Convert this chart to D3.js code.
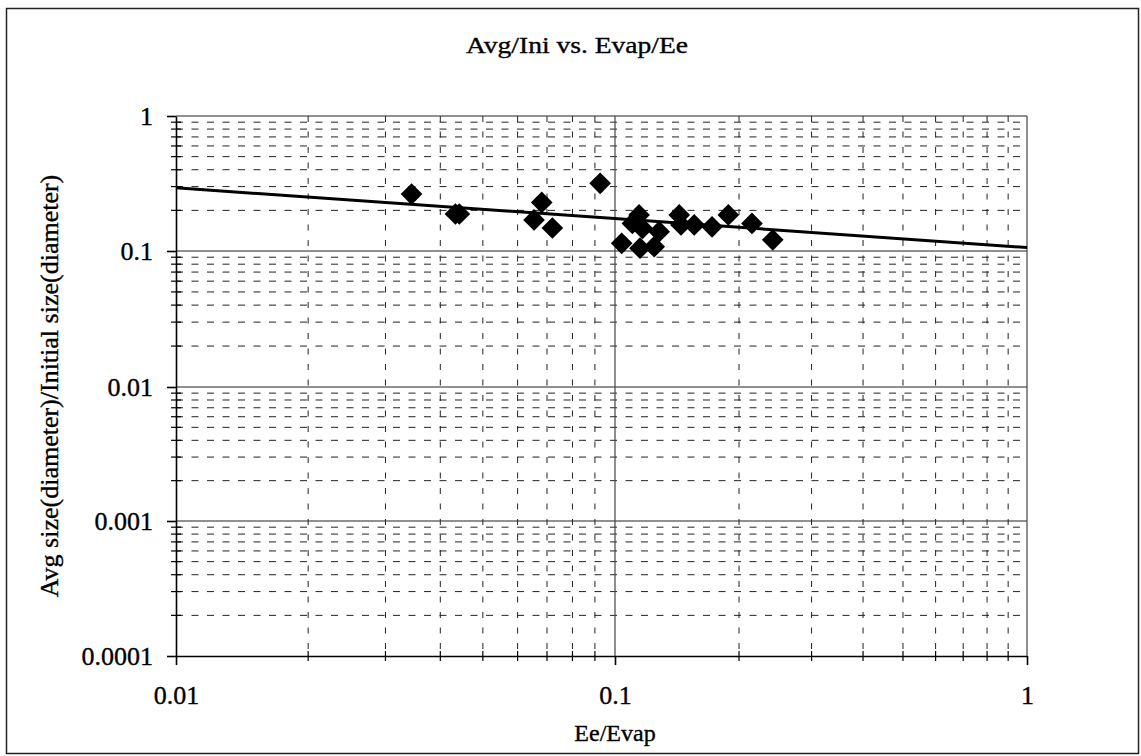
<!DOCTYPE html>
<html><head><meta charset="utf-8">
<script src="https://cdn.jsdelivr.net/npm/d3@7"></script>
<style>
body{margin:0;background:#fff}
svg{display:block}
text{font-family:"Liberation Serif","Times New Roman",serif;fill:#000;stroke:#000;stroke-width:0.35px}
</style>
</head><body><svg id="c" width="1141" height="756"></svg>
<script>
const title = "Avg/Ini vs. Evap/Ee";
const xTitle = "Ee/Evap";
const yTitle = "Avg size(diameter)/Initial size(diameter)";
const xTickValues = [0.01, 0.1, 1];
const xTickLabels = ["0.01", "0.1", "1"];
const yTickValues = [1, 0.1, 0.01, 0.001, 0.0001];
const yTickLabels = ["1", "0.1", "0.01", "0.001", "0.0001"];
const minorMultipliers = [2, 3, 4, 5, 6, 7, 8, 9];
const xValues = [0.0344, 0.0433, 0.0442, 0.0681, 0.0654, 0.0720, 0.0925, 0.1038, 0.1144, 0.1102, 0.1166, 0.128, 0.115, 0.1245, 0.1432, 0.1446, 0.1557, 0.172, 0.1884, 0.215, 0.2415];
const yValues = [0.264, 0.188, 0.188, 0.229, 0.170, 0.148, 0.317, 0.114, 0.185, 0.160, 0.147, 0.139, 0.105, 0.1076, 0.185, 0.156, 0.156, 0.151, 0.185, 0.160, 0.121];
const trendX = [0.01, 1];
const trendY = [0.294, 0.106];

const svg = d3.select("#c");
const x = d3.scaleLog().domain([0.01, 0.1, 1]).range([176, 615, 1027]);
const y = d3.scaleLog().domain([1, 0.1, 0.01, 0.001, 0.0001]).range([116, 251, 387, 521, 656]);
const [x0, x1] = [x(0.01), x(1)];
const [y0, y1] = [y(1), y(0.0001)];

// outer border
svg.append("rect").attr("x", 6.5).attr("y", 8.5).attr("width", 1132).attr("height", 745)
  .attr("fill", "none").attr("stroke", "#222").attr("stroke-width", 1.5);

// minor values
const xMinor = [];
[0.01, 0.1].forEach(d => minorMultipliers.forEach(m => xMinor.push(d * m)));
const yMinor = [];
[0.1, 0.01, 0.001, 0.0001].forEach(d => minorMultipliers.forEach(m => yMinor.push(d * m)));

const g = svg.append("g");
g.selectAll(".ymin").data(yMinor).join("line")
  .attr("x1", x0).attr("x2", x1).attr("y1", d => y(d)).attr("y2", d => y(d))
  .attr("stroke", "#222").attr("stroke-width", 1).attr("stroke-dasharray", "7,8.5");
g.selectAll(".xmin").data(xMinor).join("line")
  .attr("y1", y0).attr("y2", y1).attr("x1", d => x(d)).attr("x2", d => x(d))
  .attr("stroke", "#222").attr("stroke-width", 1).attr("stroke-dasharray", "6,9.5");
// major gridlines
g.selectAll(".ymaj").data(yTickValues.slice(0, 4)).join("line")
  .attr("x1", x0).attr("x2", x1).attr("y1", d => y(d)).attr("y2", d => y(d))
  .attr("stroke", "#222").attr("stroke-width", 1.2);
g.selectAll(".xmaj").data(xTickValues.slice(1)).join("line")
  .attr("y1", y0).attr("y2", y1).attr("x1", d => x(d)).attr("x2", d => x(d))
  .attr("stroke", "#444").attr("stroke-width", 1.2);

// minor crossing ticks
g.selectAll(".ytk").data(yMinor).join("line")
  .attr("x1", x0 - 5).attr("x2", x0 + 5).attr("y1", d => y(d)).attr("y2", d => y(d))
  .attr("stroke", "#000").attr("stroke-width", 1.2);
g.selectAll(".xtk").data(xMinor).join("line")
  .attr("y1", y1 - 5).attr("y2", y1 + 5).attr("x1", d => x(d)).attr("x2", d => x(d))
  .attr("stroke", "#000").attr("stroke-width", 1.2);

// axes
const yAxis = d3.axisLeft(y).tickValues(yTickValues).tickFormat((d, i) => yTickLabels[i])
  .tickSize(9).tickSizeOuter(0).tickPadding(14);
const ya = svg.append("g").attr("transform", `translate(${x0},0)`).call(yAxis);
ya.selectAll("text").attr("font-size", 26).attr("fill", "#000");
ya.selectAll("line,path").attr("stroke", "#000").attr("stroke-width", 1.6);

const xAxis = d3.axisBottom(x).tickValues(xTickValues).tickFormat((d, i) => xTickLabels[i])
  .tickSize(9).tickSizeOuter(0);
const xa = svg.append("g").attr("transform", `translate(0,${y1})`).call(xAxis);
xa.selectAll("text").attr("font-size", 26).attr("fill", "#000")
  .attr("y", 48).attr("dy", null);
xa.selectAll("line,path").attr("stroke", "#000").attr("stroke-width", 1.6);

// trendline
svg.append("path").datum(trendX.map((d, i) => [d, trendY[i]]))
  .attr("d", d3.line().x(d => x(d[0])).y(d => y(d[1])))
  .attr("fill", "none").attr("stroke", "#000").attr("stroke-width", 3);

// points
const sym = d3.symbol().type(d3.symbolSquare).size(235);
svg.selectAll(".pt").data(xValues.map((d, i) => [d, yValues[i]])).join("path")
  .attr("d", sym).attr("transform", d => `translate(${x(d[0])},${y(d[1])}) rotate(45)`)
  .attr("fill", "#000");

// titles
svg.append("text").attr("x", 577).attr("y", 53).attr("text-anchor", "middle")
  .attr("font-size", 24).attr("textLength", 222).attr("lengthAdjust", "spacingAndGlyphs").text(title);
svg.append("text").attr("x", 615).attr("y", 741).attr("text-anchor", "middle")
  .attr("font-size", 24).text(xTitle);
svg.append("text").attr("transform", "translate(58,386) rotate(-90)").attr("text-anchor", "middle")
  .attr("font-size", 26).text(yTitle);
</script></body></html>
